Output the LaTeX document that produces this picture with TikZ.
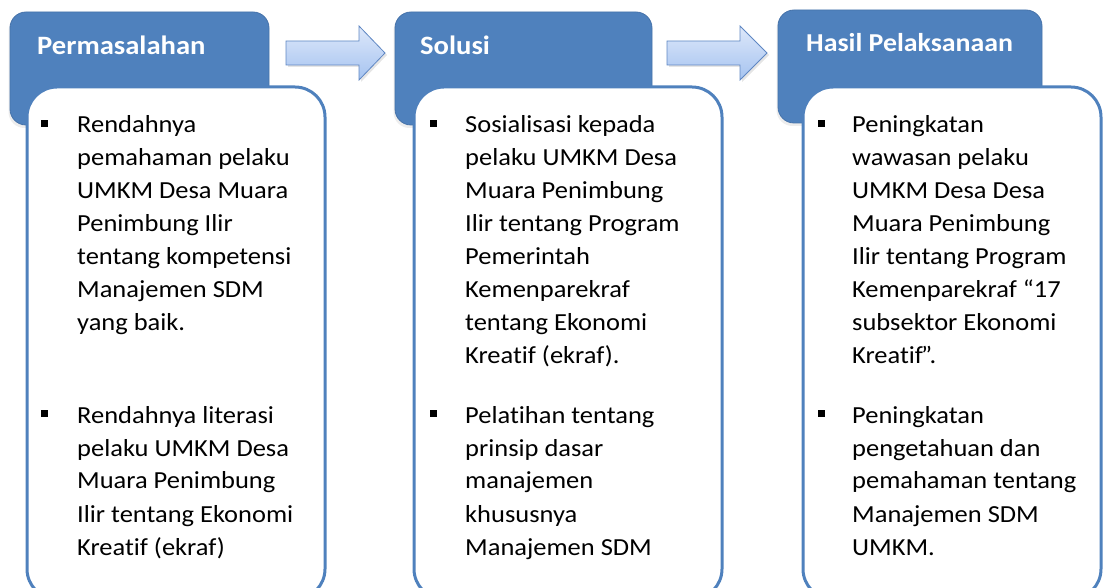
\documentclass[tikz,border=0pt]{standalone}
\usepackage{fontspec}
\setmainfont{Carlito}[FakeStretch=1.08, Ligatures=NoCommon]
\definecolor{hdrblue}{RGB}{79,129,189}
\definecolor{hdrline}{RGB}{70,115,170}
\definecolor{arrtop}{RGB}{222,232,250}
\definecolor{arrbot}{RGB}{165,195,240}
\definecolor{arrline}{RGB}{95,135,195}
\tikzset{
  hdr/.style={draw=hdrline, line width=0.8pt, fill=hdrblue, rounded corners=16pt, anchor=north west, inner sep=0pt, outer sep=0pt, minimum height=113pt},
  hdrtext/.style={anchor=base west, inner sep=0pt, text=white, font=\fontsize{26.5pt}{30pt}\selectfont\bfseries},
  bodybox/.style={draw=hdrblue, line width=3pt, fill=white, rounded corners=30pt, anchor=north west, inner sep=0pt, outer sep=0pt, minimum height=512pt},
  bodytext/.style={anchor=base west, inner sep=0pt, font=\fontsize{24.5pt}{33pt}\selectfont},
  bulletsq/.style={fill=black, inner sep=0pt, minimum size=7pt},
  blockarrow/.style={top color=arrtop, bottom color=arrbot, draw=arrline, line width=0.8pt, line join=miter},
}
\newcommand{\lines}[1]{\parbox[t]{280pt}{\raggedright\fontsize{24.5pt}{33pt}\selectfont #1}}
\begin{document}
\begin{tikzpicture}[x=1pt,y=-1pt]
\useasboundingbox (0,0) rectangle (1104,588);
\clip (0,0) rectangle (1104,588);
% headers (with faint shadow)
\foreach \x/\y/\w in {10/12/259, 395/12/257, 778/10/264}{
  \fill[black, opacity=0.07, rounded corners=16pt] (\x-1.5,\y+3) rectangle ++(\w,113);
}
\node[hdr, minimum width=259pt] (h1) at (10,12) {};
\node[hdr, minimum width=257pt] (h2) at (395,12) {};
\node[hdr, minimum width=264pt] (h3) at (778,10) {};
\node[hdrtext] (t1) at (37,55) {Permasalahan};
\node[hdrtext] (t2) at (420,55) {Solusi};
\node[hdrtext, font=\fontsize{25.8pt}{30pt}\selectfont\bfseries] (t3) at (806,52) {Hasil Pelaksanaan};
% body boxes
\node[bodybox, minimum width=298pt] (b1) at (27,87) {};
\node[bodybox, minimum width=308pt] (b2) at (414,87) {};
\node[bodybox, minimum width=298pt] (b3) at (803,87) {};
% block arrows
\foreach \s/\h/\t in {286/359/385, 667/740/767}{
  \fill[black, opacity=0.10] (\s+2,43) -- (\h+2,43) -- (\h+2,28) -- (\t+2,55) -- (\h+2,82) -- (\h+2,67) -- (\s+2,67) -- cycle;
  \shade[blockarrow] (\s,41) -- (\h,41) -- (\h,26) -- (\t,53) -- (\h,80) -- (\h,65) -- (\s,65) -- cycle;
}
% bullets
\node[bulletsq] (m11) at (44.5,123.5) {};
\node[bulletsq] (m12) at (44.5,413.5) {};
\node[bulletsq] (m21) at (433,123.5) {};
\node[bulletsq] (m22) at (433,413.5) {};
\node[bulletsq] (m31) at (821,123.5) {};
\node[bulletsq] (m32) at (821,413.5) {};
% texts
\node[bodytext] (p11) at (77,133) {\lines{Rendahnya\\pemahaman pelaku\\UMKM Desa Muara\\Penimbung Ilir\\tentang kompetensi\\Manajemen SDM\\yang baik.}};
\node[bodytext] (p12) at (77,423) {\lines{Rendahnya literasi\\pelaku UMKM Desa\\Muara Penimbung\\Ilir tentang Ekonomi\\Kreatif (ekraf)}};
\node[bodytext] (p21) at (465,133) {\lines{Sosialisasi kepada\\pelaku UMKM Desa\\Muara Penimbung\\Ilir tentang Program\\Pemerintah\\Kemenparekraf\\tentang Ekonomi\\Kreatif (ekraf).}};
\node[bodytext] (p22) at (465,423) {\lines{Pelatihan tentang\\prinsip dasar\\manajemen\\khususnya\\Manajemen SDM}};
\node[bodytext] (p31) at (852,133) {\lines{Peningkatan\\wawasan pelaku\\UMKM Desa Desa\\Muara Penimbung\\Ilir tentang Program\\Kemenparekraf “17\\subsektor Ekonomi\\Kreatif\kern-2pt”.}};
\node[bodytext] (p32) at (852,423) {\lines{Peningkatan\\pengetahuan dan\\pemahaman tentang\\Manajemen SDM\\UMKM.}};
\end{tikzpicture}
\end{document}
